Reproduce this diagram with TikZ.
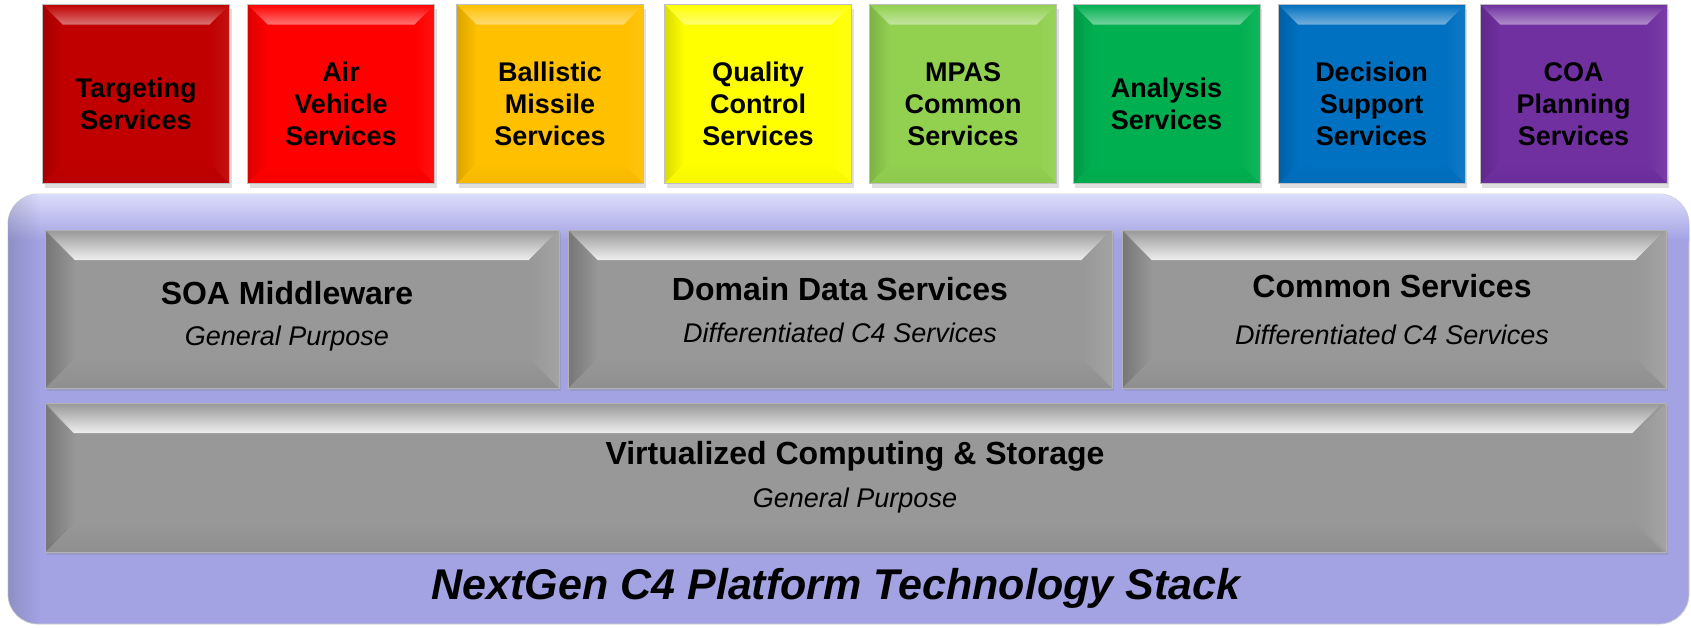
\documentclass[tikz,border=0pt]{standalone}
\usepackage{fontspec}
\setmainfont{Liberation Sans}
\usetikzlibrary{shadows,fadings}

\definecolor{tgtred}{HTML}{C00000}
\definecolor{airred}{HTML}{FF0000}
\definecolor{bmgold}{HTML}{FFC000}
\definecolor{qcyellow}{HTML}{FFFF00}
\definecolor{mpasgreen}{HTML}{92D050}
\definecolor{anagreen}{HTML}{00B050}
\definecolor{dsblue}{HTML}{0070C0}
\definecolor{coapurple}{HTML}{7030A0}
\definecolor{stacklav}{HTML}{A3A3E3}
\definecolor{stacklight}{HTML}{DCDCFC}
\definecolor{layergray}{HTML}{989898}

% bevelled faces of a box: #1 bevel width, #2 top highlight, #3 side shade
\newcommand{\bevelfaces}[3]{%
  \path (path picture bounding box.north west) coordinate (pnw)
        (path picture bounding box.north east) coordinate (pne)
        (path picture bounding box.south west) coordinate (psw)
        (path picture bounding box.south east) coordinate (pse);
  \path ([xshift=#1,yshift=-#1]pnw) coordinate (inw)
        ([xshift=-#1,yshift=-#1]pne) coordinate (ine)
        ([xshift=#1,yshift=#1]psw) coordinate (isw)
        ([xshift=-#1,yshift=#1]pse) coordinate (ise);
  \fill[white,opacity=#2,path fading=north] (pnw) -- (pne) -- (ine) -- (inw) -- cycle;
  \fill[black,opacity=#3,path fading=east] (pnw) -- (inw) -- (isw) -- (psw) -- cycle;
  \fill[black,opacity=#3/4,path fading=north] (psw) -- (isw) -- (ise) -- (pse) -- cycle;
  \fill[white,opacity=#3/2,path fading=west] (pne) -- (ine) -- (ise) -- (pse) -- cycle;
}

\tikzset{
  svcbox/.style={draw=black!25, line width=.8pt, fill=#1, inner sep=0pt,
    minimum width=187pt, minimum height=179pt,
    drop shadow={shadow xshift=2pt, shadow yshift=-4pt, opacity=.25},
    path picture={\bevelfaces{20pt}{.45}{.14}}},
  svctext/.style={align=center, font=\fontsize{27}{32}\selectfont\bfseries},
  layerbox/.style={draw=black!30, line width=.8pt, fill=layergray, inner sep=0pt,
    drop shadow={shadow xshift=2pt, shadow yshift=-3pt, opacity=.25},
    path picture={\bevelfaces{30pt}{.85}{.22}}},
  layertitle/.style={font=\fontsize{32}{38}\selectfont\bfseries},
  layersub/.style={font=\fontsize{27}{32}\selectfont\itshape},
  stackpanel/.style={draw=black!20, line width=.8pt, fill=stacklav,
    rounded corners=30pt, inner sep=0pt},
}

\begin{document}
\begin{tikzpicture}[x=1pt,y=-1pt]
    \useasboundingbox (0,0) rectangle (1691,627);

    % platform panel
    \node[stackpanel, minimum width=1681pt, minimum height=430pt] (stack) at (848.5,409) {};
    \begin{scope}
        \clip[rounded corners=30pt] (8,194) rectangle (1689,624);
        \shade[top color=stacklight, bottom color=stacklav] (8,194) rectangle (1689,240);
        \fill[black,opacity=.12,path fading=east] (8,194) rectangle (40,624);
    \end{scope}

    % mission services
    \node[svcbox=tgtred] (tgt) at (136,94) {};
    \node[svcbox=airred] (air) at (341,94) {};
    \node[svcbox=bmgold] (bm) at (550,94) {};
    \node[svcbox=qcyellow] (qc) at (758,94) {};
    \node[svcbox=mpasgreen] (mpas) at (963,94) {};
    \node[svcbox=anagreen] (ana) at (1166.5,94) {};
    \node[svcbox=dsblue] (ds) at (1371.5,94) {};
    \node[svcbox=coapurple] (coa) at (1573.5,94) {};

    \node[svctext] (tgt-t) at (136,104) {Targeting\\Services};
    \node[svctext] (air-t) at (341,104) {Air\\Vehicle\\Services};
    \node[svctext] (bm-t) at (550,104) {Ballistic\\Missile\\Services};
    \node[svctext] (qc-t) at (758,104) {Quality\\Control\\Services};
    \node[svctext] (mpas-t) at (963,104) {MPAS\\Common\\Services};
    \node[svctext] (ana-t) at (1166.5,104) {Analysis\\Services};
    \node[svctext] (ds-t) at (1371.5,104) {Decision\\Support\\Services};
    \node[svctext] (coa-t) at (1573.5,104) {COA\\Planning\\Services};

    % technology layers
    \node[layerbox, minimum width=514pt, minimum height=158pt] (soa) at (302,309) {};
    \node[layerbox, minimum width=544pt, minimum height=158pt] (dds) at (840,309) {};
    \node[layerbox, minimum width=544pt, minimum height=158pt] (cmn) at (1394,309) {};
    \node[layerbox, minimum width=1621pt, minimum height=149pt] (virt) at (855.5,477.5) {};

    \node[layertitle] (soa-t) at (287,293) {SOA Middleware};
    \node[layersub] (soa-s) at (287,339) {General Purpose};
    \node[layertitle] (dds-t) at (840,289) {Domain Data Services};
    \node[layersub] (dds-s) at (840,333) {Differentiated C4 Services};
    \node[layertitle] (cmn-t) at (1392,286) {Common Services};
    \node[layersub] (cmn-s) at (1392,335) {Differentiated C4 Services};
    \node[layertitle] (virt-t) at (855,456) {Virtualized Computing \& Storage};
    \node[layersub] (virt-s) at (855,501) {General Purpose};

    \node[font=\fontsize{43}{50}\selectfont\bfseries\itshape] (stack-t) at (836,588)
        {NextGen C4 Platform Technology Stack};
\end{tikzpicture}
\end{document}
